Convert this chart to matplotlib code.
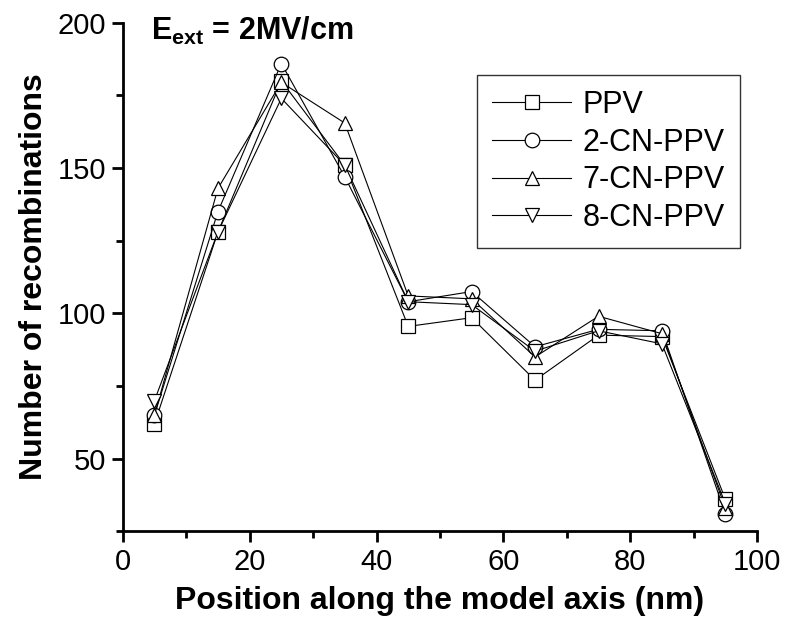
import matplotlib
matplotlib.use('Agg')
import matplotlib.pyplot as plt
from matplotlib.ticker import MultipleLocator

plt.rcParams['font.family'] = ['Liberation Sans', 'DejaVu Sans']
plt.rcParams['mathtext.fontset'] = 'custom'
plt.rcParams['mathtext.rm'] = 'Liberation Sans'
plt.rcParams['mathtext.bf'] = 'Liberation Sans:bold'

# data
position = [5, 15, 25, 35, 45, 55, 65, 75, 85, 95]
ppv = [62, 128, 180, 151, 95.5, 98.5, 77, 92.5, 92, 36]
cn2 = [65, 135, 186, 147, 104, 107.5, 88.5, 94.5, 94, 31]
cn7 = [65, 143, 179.5, 165.5, 106, 105, 85, 99, 93, 33]
cn8 = [70, 128, 174, 151, 104, 103, 87, 94, 89.5, 34.5]
labels = ['PPV', '2-CN-PPV', '7-CN-PPV', '8-CN-PPV']
markers = ['s', 'o', '^', 'v']

fig = plt.figure(figsize=(7.87, 6.17), dpi=100)
ax = fig.add_axes([0.156, 0.139, 0.806, 0.824])

for series, lab, m in zip([ppv, cn2, cn7, cn8], labels, markers):
    ax.plot(position, series, color='black', linewidth=0.8, marker=m,
            markersize=10.5, markerfacecolor='white', markeredgecolor='black',
            markeredgewidth=0.9, label=lab)

ax.set_xlim(0, 100)
ax.set_ylim(25, 200)
ax.xaxis.set_major_locator(MultipleLocator(20))
ax.xaxis.set_minor_locator(MultipleLocator(10))
ax.yaxis.set_major_locator(MultipleLocator(50))
ax.yaxis.set_minor_locator(MultipleLocator(25))

for side in ['top', 'right']:
    ax.spines[side].set_visible(False)
for side in ['left', 'bottom']:
    ax.spines[side].set_linewidth(2)
ax.tick_params(which='major', direction='out', length=8, width=2, labelsize=21, pad=4)
ax.tick_params(which='minor', direction='out', length=5, width=2)

ax.set_xlabel('Position along the model axis (nm)', fontsize=23, fontweight='bold', labelpad=7)
ax.set_ylabel('Number of recombinations', fontsize=23, fontweight='bold', labelpad=6)

ax.text(0.045, 0.985, r'$\mathbf{E}_{\mathbf{ext}}$ = 2MV/cm', transform=ax.transAxes,
        fontsize=22, fontweight='bold', ha='left', va='center')

leg = ax.legend(loc='upper left', bbox_to_anchor=(0.558, 0.898), fontsize=22,
                frameon=True, fancybox=False, edgecolor='black', handlelength=2.6,
                handletextpad=0.35, labelspacing=0.25, borderpad=0.5, borderaxespad=0)
leg.get_frame().set_linewidth(1)

fig.savefig('out.png', dpi=100)
